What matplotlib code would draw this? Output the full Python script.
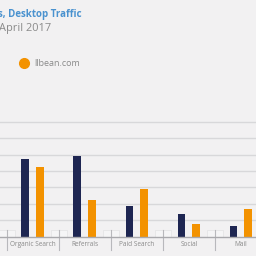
import matplotlib
matplotlib.use("Agg")
import matplotlib.pyplot as plt
from matplotlib.lines import Line2D
from matplotlib.patches import Rectangle

# ---------------------------------------------------------------------------
# Data (share of desktop traffic, %)
# ---------------------------------------------------------------------------

categories   = ["Organic Search", "Referrals", "Paid Search", "Social", "Mail"]
competitor   = [23.7, 24.5, 9.2, 6.8, 3.3]
llbean       = [21.2, 11.3, 14.6, 3.8, 8.5]
grid_values  = [5, 10, 15, 20, 25, 30, 35]

NAVY   = "#1e2652"
ORANGE = "#f39200"
BG     = "#f2f1f2"
GRAY   = "#8a8a8a"
BLUE   = "#4a92cf"

# ---------------------------------------------------------------------------
# Figure
# ---------------------------------------------------------------------------

plt.rcParams["font.family"] = ["Open Sans", "DejaVu Sans"]

fig = plt.figure(figsize=(2.56, 2.56), dpi=100, facecolor=BG)
ax = fig.add_axes([0.0, 0.0754, 1.0, 0.4555])
ax.set_facecolor(BG)

x = list(range(1, len(categories) + 1))
bw = 0.146
ax.bar([i - 0.145 for i in x], competitor, width=bw, color=NAVY, zorder=3)
ax.bar([i + 0.135 for i in x], llbean, width=bw, color=ORANGE, zorder=3)

ax.set_xlim(0.3714, 5.285)
ax.set_ylim(0, 35.5)

for g in grid_values:
    ax.axhline(g, color="#d8d8da", lw=1.0, zorder=1)
ax.axhline(0, color="#a9a9ad", lw=1.0, zorder=4, clip_on=False)

# category dividers below the baseline + small tick boxes
for d in [i + 0.5 for i in range(0, len(categories) + 1)]:
    ax.add_patch(Rectangle((d - 0.15, 0), 0.3, 2.1, facecolor="#f5f5f6",
                           edgecolor="#e2e2e4", lw=0.5, zorder=2))
    ax.plot([d, d], [2.1, -4.0], color="#b8b8bc", lw=0.8, clip_on=False, zorder=2)

for i, c in zip(x, categories):
    ax.text(i, -2.3, c, ha="center", va="center", fontsize=4.7,
            color=GRAY, clip_on=False)

for s in ax.spines.values():
    s.set_visible(False)
ax.set_xticks([])
ax.set_yticks([])

# ---------------------------------------------------------------------------
# Title / legend
# ---------------------------------------------------------------------------

fig.text(82 / 256, 1 - 15 / 256, "s, Desktop Traffic", ha="right", va="center",
         fontsize=7, fontweight="bold", color=BLUE)
fig.text(-1 / 256, 1 - 28 / 256, "April 2017", ha="left", va="center",
         fontsize=7.9, color=GRAY)

fig.add_artist(Line2D([24 / 256], [1 - 63 / 256], marker="o", ms=7,
                      color=ORANGE, ls="", transform=fig.transFigure))
fig.text(34 / 256, 1 - 63 / 256, "llbean.com", ha="left", va="center",
         fontsize=6.5, color=GRAY)

fig.savefig("out.png", dpi=100, facecolor=BG)
